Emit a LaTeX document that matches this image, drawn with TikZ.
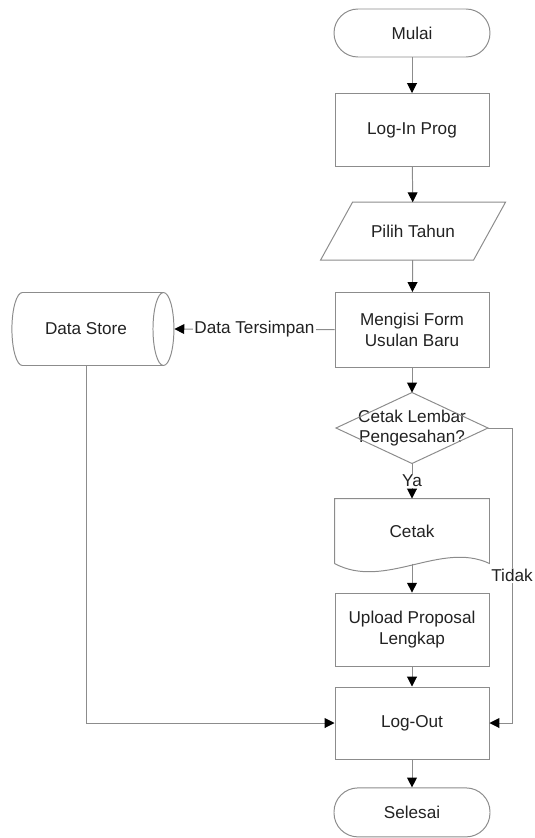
\documentclass[tikz,border=0pt]{standalone}
\usepackage{fontspec}
\setmainfont{Liberation Sans}
\usepackage{tikz}
\usetikzlibrary{arrows.meta, positioning, shapes.geometric, calc}
\definecolor{fGray}{HTML}{8C8C8C}
\definecolor{fText}{HTML}{222222}

\begin{document}
\begin{tikzpicture}[font=\fontsize{12.2}{14.5}\selectfont, text=fText,
      base/.style={draw=fGray, line width=0.7pt, minimum width=3.85cm, align=center, inner sep=1pt},
      proc/.style={base, minimum height=1.825cm},
      term/.style={base, rounded corners=0.6cm, minimum width=3.9cm, minimum height=1.2cm},
      ghost/.style={base, draw=none},
      store/.style={base, cylinder, aspect=1.4, minimum width=1.825cm, minimum height=4.05cm},
      edge/.style={draw=fGray, line width=0.7pt},
      arr/.style={edge, -{Triangle[length=7pt, width=7pt, black]}},
      lbl/.style={fill=white, inner sep=1pt}]
    \useasboundingbox (0,0) rectangle (13.35,-20.95);

    % main column
    \node[term] (mulai)   at (10.3,-0.825)  {Mulai};
    \node[proc] (login)   at (10.3,-3.25)   {Log-In Prog};
    \node[ghost, minimum width=3.8cm, minimum height=1.425cm] (tahun) at (10.325,-5.78) {Pilih Tahun};
    \draw[edge] ([xshift=0.4cm]tahun.north west) -- ([xshift=0.4cm]tahun.north east)
      -- ([xshift=-0.4cm]tahun.south east) -- ([xshift=-0.4cm]tahun.south west) -- cycle;
    \node[proc, minimum height=1.875cm] (mengisi) at (10.3,-8.25) {Mengisi Form\\Usulan Baru};
    \node[ghost, minimum width=3.775cm, minimum height=1.75cm] (cek) at (10.3,-10.7)
      {Cetak Lembar\\Pengesahan?};
    \draw[edge] (cek.north) -- (cek.east) -- (cek.south) -- (cek.west) -- cycle;
    \node[ghost, minimum height=1.6cm] (cetak) at (10.3,-13.275) {Cetak};
    \draw[edge] (cetak.south west) -- (cetak.north west) -- (cetak.north east)
      -- (cetak.south east) .. controls +(-1.225,0.575) and +(1.25,-0.675) .. (cetak.south west);
    \node[proc] (upload)  at (10.3,-15.74)  {Upload Proposal\\Lengkap};
    \node[proc, minimum height=1.8cm] (logout) at (10.3,-18.075) {Log-Out};
    \node[term, minimum height=1.225cm] (selesai) at (10.3,-20.31) {Selesai};

    % storage on the left
    \node[store] (dstore) at (2.15,-8.225) {Data Store};

    \coordinate (tidakR) at (12.8,-10.7);

    \draw[arr] (mulai) -- (login);
    \draw[arr] (login) -- (tahun);
    \draw[arr] (tahun) -- (mengisi);
    \draw[arr] (mengisi) -- node[lbl] {Data Tersimpan} (dstore.east);
    \draw[arr] (mengisi) -- (cek.north);
    \draw[arr] (cek.south) -- node[lbl] {Ya} (cetak.north);
    \draw[arr] (cek.east) -- (tidakR) |- node[lbl, pos=0.25] {Tidak} (logout.east);
    \draw[arr] (cetak.south) -- (upload);
    \draw[arr] (upload) -- (logout);
    \draw[arr] (dstore.south) |- (logout.west);
    \draw[arr] (logout) -- (selesai);
  \end{tikzpicture}
\end{document}
